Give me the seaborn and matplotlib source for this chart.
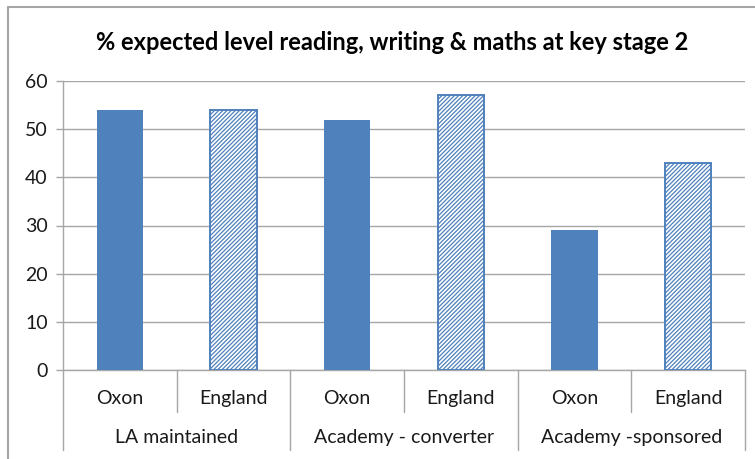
import matplotlib
matplotlib.use("Agg")
import matplotlib.pyplot as plt
import matplotlib.transforms as mtransforms
from matplotlib.lines import Line2D
import seaborn as sns
import pandas as pd

groups = ["LA maintained", "Academy - converter", "Academy -sponsored"]
regions = ["Oxon", "England"]
oxon = [54, 52, 29]
england = [54, 57, 43]
title = "% expected level reading, writing & maths at key stage 2"
yticks = [0, 10, 20, 30, 40, 50, 60]

rows = []
for g, o, e in zip(groups, oxon, england):
    rows.append(dict(group=g, region="Oxon", value=o))
    rows.append(dict(group=g, region="England", value=e))
df = pd.DataFrame(rows)
df["slot"] = df["group"] + "|" + df["region"]

sns.set_theme(style="white")
plt.rcParams["font.family"] = ["Lato", "DejaVu Sans"]
plt.rcParams["hatch.color"] = "#4F81BD"
plt.rcParams["hatch.linewidth"] = 0.9

BLUE = "#4F81BD"
GRAY = "#A6A6A6"
W, H = 755, 459

fig = plt.figure(figsize=(W / 100, H / 100), dpi=100)
fig.patch.set_facecolor("white")
x0, x1, yb, yt = 63, 745, 370, 81
ax = fig.add_axes([x0 / W, 1 - yb / H, (x1 - x0) / W, (yb - yt) / H])

sns.barplot(data=df, x="slot", y="value", hue="region", dodge=False,
            palette={"Oxon": BLUE, "England": "white"}, width=0.41,
            saturation=1, legend=False, ax=ax, zorder=3)

for p, reg in zip(ax.patches, ["Oxon"] * 3 + ["England"] * 3):
    if reg == "England":
        p.set_hatch("////////")
        p.set_edgecolor(BLUE)
        p.set_linewidth(1.4)
    else:
        p.set_edgecolor(BLUE)
        p.set_linewidth(0)

ax.set_xlim(-0.5, 5.5)
ax.set_ylim(0, 60)
ax.set_yticks(yticks)
ax.set_yticklabels([str(t) for t in yticks], fontsize=14, color="#1a1a1a")
ax.set_xticks([])
ax.set_xlabel("")
ax.set_ylabel("")
ax.grid(axis="y", color=GRAY, linewidth=1, zorder=0)
ax.set_axisbelow(True)
for s in ["top", "right"]:
    ax.spines[s].set_visible(False)
for s in ["left", "bottom"]:
    ax.spines[s].set_color(GRAY)
    ax.spines[s].set_linewidth(1)
ax.tick_params(axis="y", which="major", left=True, length=5, width=1,
               color=GRAY, pad=6)

trans = mtransforms.blended_transform_factory(ax.transData, fig.transFigure)

def fy(px):
    return 1 - px / H

# separators
for i, xb in enumerate([-0.5, 0.5, 1.5, 2.5, 3.5, 4.5, 5.5]):
    long = (i % 2 == 0)
    ybot = 450 if long else 412
    ax.add_line(Line2D([xb, xb], [fy(yb), fy(ybot)], transform=trans,
                       color=GRAY, linewidth=1, clip_on=False))

# labels
for i in range(6):
    ax.text(i, fy(404), regions[i % 2], transform=trans, ha="center",
            va="baseline", fontsize=14, color="#1a1a1a")
for j, g in enumerate(groups):
    ax.text(2 * j + 0.5, fy(443), g, transform=trans, ha="center",
            va="baseline", fontsize=14, color="#1a1a1a")

fig.text(392 / W, fy(42), title, ha="center", va="center",
         fontsize=17, fontweight="bold", color="black")

# outer chart frame (cropped)
fig.add_artist(Line2D([8 / W, 8 / W], [0, fy(7)], transform=fig.transFigure,
                      color=GRAY, linewidth=1.5))
fig.add_artist(Line2D([8 / W, 1], [fy(7), fy(7)], transform=fig.transFigure,
                      color=GRAY, linewidth=1.5))

fig.savefig("out.png", dpi=100)
